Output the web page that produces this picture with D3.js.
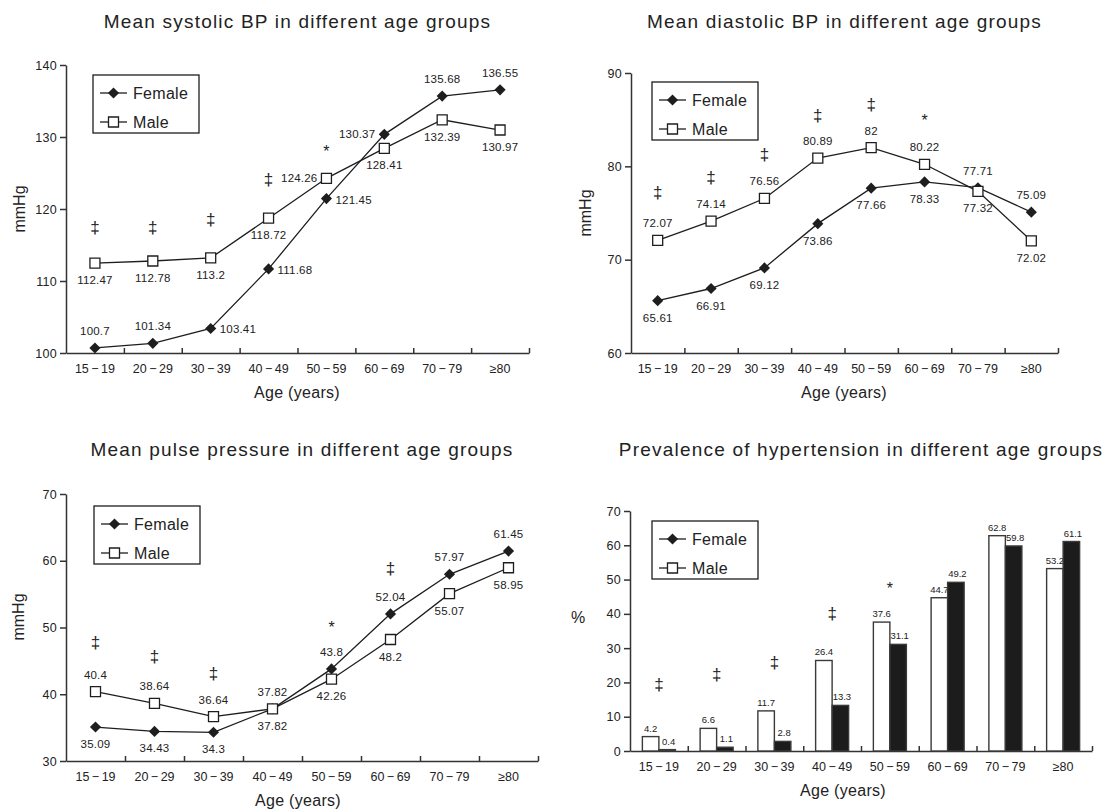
<!DOCTYPE html>
<html>
<head>
<meta charset="utf-8">
<script src="https://cdn.jsdelivr.net/npm/d3@7"></script>
<style>
body { margin: 0; background: #fff; }
text { font-family: "Liberation Sans", Arial, Helvetica, sans-serif; fill: #222; }
</style>
</head>
<body>
<div id="chart"></div>
<script>
const ageGroups = ['15\u2009\u2212\u200919', '20\u2009\u2212\u200929', '30\u2009\u2212\u200939', '40\u2009\u2212\u200949', '50\u2009\u2212\u200959', '60\u2009\u2212\u200969', '70\u2009\u2212\u200979', '\u226580']

// systolic BP (mmHg)
const sbpFemale = [100.7, 101.34, 103.41, 111.68, 121.45, 130.37, 135.68, 136.55]
const sbpMale = [112.47, 112.78, 113.2, 118.72, 124.26, 128.41, 132.39, 130.97]
const sbpSig = ['\u2021', '\u2021', '\u2021', '\u2021', '*', '', '', '']
const sbpSigAt = [117.4, 117.4, 118.5, 124, 128.5, null, null, null]

// diastolic BP (mmHg)
const dbpFemale = [65.61, 66.91, 69.12, 73.86, 77.66, 78.33, 77.71, 75.09]
const dbpMale = [72.07, 74.14, 76.56, 80.89, 82, 80.22, 77.32, 72.02]
const dbpSig = ['\u2021', '\u2021', '\u2021', '\u2021', '\u2021', '*', '', '']
const dbpSigAt = [77.1, 78.75, 81.2, 85.4, 86.6, 85.3, null, null]

// pulse pressure (mmHg)
const ppFemale = [35.09, 34.43, 34.3, 37.82, 43.8, 52.04, 57.97, 61.45]
const ppMale = [40.4, 38.64, 36.64, 37.82, 42.26, 48.2, 55.07, 58.95]
const ppSig = ['\u2021', '\u2021', '\u2021', '', '*', '\u2021', '', '']
const ppSigAt = [47.7, 45.6, 43, null, 50.5, 58.8, null, null]

// prevalence of hypertension (%)
const htnMale = [4.2, 6.6, 11.7, 26.4, 37.6, 44.7, 62.8, 53.2]
const htnFemale = [0.4, 1.1, 2.8, 13.3, 31.1, 49.2, 59.8, 61.1]
const htnSig = ['\u2021', '\u2021', '\u2021', '\u2021', '*', '', '', '']
const htnSigAt = [19.2, 22.2, 25.7, 40, 48.4, null, null, null]

// where each value label sits: a = above, b = below, l = left, r = right
const sbpFemaleLab = ['a', 'a', 'r', 'r', 'r', 'l', 'a', 'a']
const sbpMaleLab = ['b', 'b', 'b', 'b', 'l', 'b', 'b', 'b']
const dbpFemaleLab = ['b', 'b', 'b', 'b', 'b', 'b', 'a', 'a']
const dbpMaleLab = ['a', 'a', 'a', 'a', 'a', 'a', 'b', 'b']
const ppFemaleLab = ['b', 'b', 'b', 'b', 'a', 'a', 'a', 'a']
const ppMaleLab = ['a', 'a', 'a', 'a', 'b', 'b', 'b', 'b']

const w = 1106, h = 810
const ink = '#1e1e1e'

const svg = d3.select('#chart')
    .append('svg')
    .attr('width', w)
    .attr('height', h)

const diamond = d3.symbol().type(d3.symbolSquare).size(62)
const square = d3.symbol().type(d3.symbolSquare).size(100)

const labelOffset = {
    a: [0, -13, 'middle'],
    b: [0, 21, 'middle'],
    l: [-9, 4, 'end'],
    r: [9, 5, 'start']
}

const drawFrame = (p) => {
    const g = svg.append('g')
    const x = d3.scaleBand().domain(ageGroups).range([p.left, p.right])
    const y = d3.scaleLinear().domain(p.domain).range([p.bottom, p.top])

    g.append('text')
        .attr('x', (p.left + p.right) / 2)
        .attr('y', p.titleY)
        .attr('text-anchor', 'middle')
        .style('font-size', '19px')
        .style('letter-spacing', '1.2px')
        .text(p.title)

    const yAxis = g.append('g')
        .attr('transform', `translate(${p.left},0)`)
        .call(d3.axisLeft(y)
            .tickValues(d3.range(p.domain[0], p.domain[1] + 1, 10))
            .tickSize(6)
            .tickSizeOuter(0)
            .tickPadding(3))
    yAxis.attr('font-size', 12.5)
    yAxis.selectAll('text').style('letter-spacing', '0.3px')

    const xAxis = g.append('g')
        .attr('transform', `translate(0,${p.bottom})`)
        .call(d3.axisBottom(x).tickSize(0).tickSizeOuter(0).tickPadding(11))
    xAxis.attr('font-size', 12.5)

    // category boundary ticks pointing up
    const xb = d3.scaleLinear().domain([0, ageGroups.length]).range([p.left, p.right])
    const bt = g.append('g')
        .attr('transform', `translate(0,${p.bottom})`)
        .call(d3.axisBottom(xb)
            .tickValues(d3.range(1, ageGroups.length + 1))
            .tickSize(-5)
            .tickFormat(''))
    bt.select('.domain').remove()

    g.selectAll('.domain, .tick line')
        .attr('stroke', '#333')
        .attr('stroke-width', 1.5)

    const yl = g.append('text')
        .attr('text-anchor', 'middle')
        .style('font-size', '16px')
        .text(p.yLabel)
    if (p.yLabelRotate) {
        yl.attr('transform', `translate(${p.yLabelX},${p.yLabelY}) rotate(-90)`).attr('dy', '0.35em')
    } else {
        yl.attr('x', p.yLabelX).attr('y', p.yLabelY).attr('dy', '0.35em')
    }

    g.append('text')
        .attr('x', p.xTitleX)
        .attr('y', p.bottom + 45)
        .attr('text-anchor', 'middle')
        .style('font-size', '16px')
        .style('letter-spacing', '0.3px')
        .text('Age (years)')

    // significance marks
    g.selectAll('.sig')
        .data(p.sig.map((s, i) => ({ s, v: p.sigAt[i], k: ageGroups[i] })).filter(d => d.s))
        .enter()
        .append('text')
        .attr('class', 'sig')
        .attr('x', d => x(d.k) + x.bandwidth() / 2)
        .attr('y', d => y(d.v) + (d.s === '*' ? 9 : 5))
        .attr('text-anchor', 'middle')
        .style('font-size', d => d.s === '*' ? '16px' : '17px')
        .text(d => d.s)

    // legend
    const lg = g.append('g').attr('transform', `translate(${p.legX},${p.legY})`)
    lg.append('rect')
        .attr('width', 106)
        .attr('height', 58)
        .attr('fill', '#fff')
        .attr('stroke', ink)
        .attr('stroke-width', 1.3)
    const rows = [{ name: 'Female', ry: 18 }, { name: 'Male', ry: 47 }]
    rows.forEach((r) => {
        lg.append('line')
            .attr('x1', 7).attr('x2', 34)
            .attr('y1', r.ry).attr('y2', r.ry)
            .attr('stroke', ink)
            .attr('stroke-width', 1.3)
        if (r.name === 'Female') {
            lg.append('path')
                .attr('d', diamond)
                .attr('transform', `translate(20.5,${r.ry}) rotate(45)`)
                .attr('fill', ink)
        } else {
            lg.append('path')
                .attr('d', square)
                .attr('transform', `translate(20.5,${r.ry})`)
                .attr('fill', '#fff')
                .attr('stroke', ink)
                .attr('stroke-width', 1.3)
        }
        lg.append('text')
            .attr('x', 40)
            .attr('y', r.ry + 5.5)
            .style('font-size', '16px')
            .style('letter-spacing', '0.3px')
            .text(r.name)
    })

    return { g, x, y }
}

const drawLines = (p, female, male, femaleLab, maleLab) => {
    const { g, x, y } = drawFrame(p)
    const cx = (i) => x(ageGroups[i]) + x.bandwidth() / 2
    const line = d3.line().x((d, i) => cx(i)).y(d => y(d))

    ;[male, female].forEach((s) => {
        g.append('path')
            .attr('d', line(s))
            .attr('fill', 'none')
            .attr('stroke', ink)
            .attr('stroke-width', 1.3)
    })

    g.selectAll('.fem')
        .data(female)
        .enter()
        .append('path')
        .attr('class', 'fem')
        .attr('d', diamond)
        .attr('transform', (d, i) => `translate(${cx(i)},${y(d)}) rotate(45)`)
        .attr('fill', ink)

    g.selectAll('.mal')
        .data(male)
        .enter()
        .append('path')
        .attr('class', 'mal')
        .attr('d', square)
        .attr('transform', (d, i) => `translate(${cx(i)},${y(d)})`)
        .attr('fill', '#fff')
        .attr('stroke', ink)
        .attr('stroke-width', 1.3)

    const labels = (vals, pos, cls) => {
        g.selectAll('.' + cls)
            .data(vals)
            .enter()
            .append('text')
            .attr('class', cls)
            .attr('x', (d, i) => cx(i) + labelOffset[pos[i]][0])
            .attr('y', (d, i) => y(d) + labelOffset[pos[i]][1])
            .attr('text-anchor', (d, i) => labelOffset[pos[i]][2])
            .style('font-size', '11.5px')
            .style('letter-spacing', '0.2px')
            .text(d => d)
    }
    labels(female, femaleLab, 'flab')
    labels(male, maleLab, 'mlab')
}

const drawBars = (p, female, male) => {
    const { g, x, y } = drawFrame(p)
    const pairW = 33
    const sub = d3.scaleBand().domain(['Male', 'Female']).range([0, pairW])
    const series = [
        { key: 'Male', vals: male, fill: '#fff' },
        { key: 'Female', vals: female, fill: '#1c1c1c' }
    ]
    series.forEach((s) => {
        const bx = (i) => x(ageGroups[i]) + (x.bandwidth() - pairW) / 2 + sub(s.key)
        g.selectAll('.bar-' + s.key)
            .data(s.vals)
            .enter()
            .append('rect')
            .attr('class', 'bar-' + s.key)
            .attr('x', (d, i) => bx(i))
            .attr('y', d => y(d))
            .attr('width', sub.bandwidth())
            .attr('height', d => y(0) - y(d))
            .attr('fill', s.fill)
            .attr('stroke', '#3a3a3a')
            .attr('stroke-width', 1.4)
        g.selectAll('.blab-' + s.key)
            .data(s.vals)
            .enter()
            .append('text')
            .attr('class', 'blab-' + s.key)
            .attr('x', (d, i) => bx(i) + sub.bandwidth() / 2 + (s.key === 'Female' ? 1.5 : 0))
            .attr('y', d => y(d) - 5)
            .attr('text-anchor', 'middle')
            .style('font-size', '9.5px')
            .text(d => d)
    })
}

drawLines({
    title: 'Mean systolic BP in different age groups', titleY: 28,
    left: 66, right: 529, top: 65, bottom: 353, domain: [100, 140],
    yLabel: 'mmHg', yLabelRotate: true, yLabelX: 19, yLabelY: 209,
    xTitleX: 297, legX: 93, legY: 75,
    sig: sbpSig, sigAt: sbpSigAt
}, sbpFemale, sbpMale, sbpFemaleLab, sbpMaleLab)

drawLines({
    title: 'Mean diastolic BP in different age groups', titleY: 28,
    left: 631, right: 1058, top: 73, bottom: 353, domain: [60, 90],
    yLabel: 'mmHg', yLabelRotate: true, yLabelX: 585, yLabelY: 213,
    xTitleX: 844, legX: 652, legY: 82,
    sig: dbpSig, sigAt: dbpSigAt
}, dbpFemale, dbpMale, dbpFemaleLab, dbpMaleLab)

drawLines({
    title: 'Mean pulse pressure in different age groups', titleY: 456,
    left: 66, right: 538, top: 494, bottom: 761, domain: [30, 70],
    yLabel: 'mmHg', yLabelRotate: true, yLabelX: 18, yLabelY: 617,
    xTitleX: 298, legX: 94, legY: 506,
    sig: ppSig, sigAt: ppSigAt
}, ppFemale, ppMale, ppFemaleLab, ppMaleLab)

drawBars({
    title: 'Prevalence of hypertension in different age groups', titleY: 456,
    left: 630, right: 1092, top: 511, bottom: 751, domain: [0, 70],
    yLabel: '%', yLabelRotate: false, yLabelX: 578, yLabelY: 617,
    xTitleX: 843, legX: 652, legY: 521,
    sig: htnSig, sigAt: htnSigAt
}, htnFemale, htnMale)
</script>
</body>
</html>
